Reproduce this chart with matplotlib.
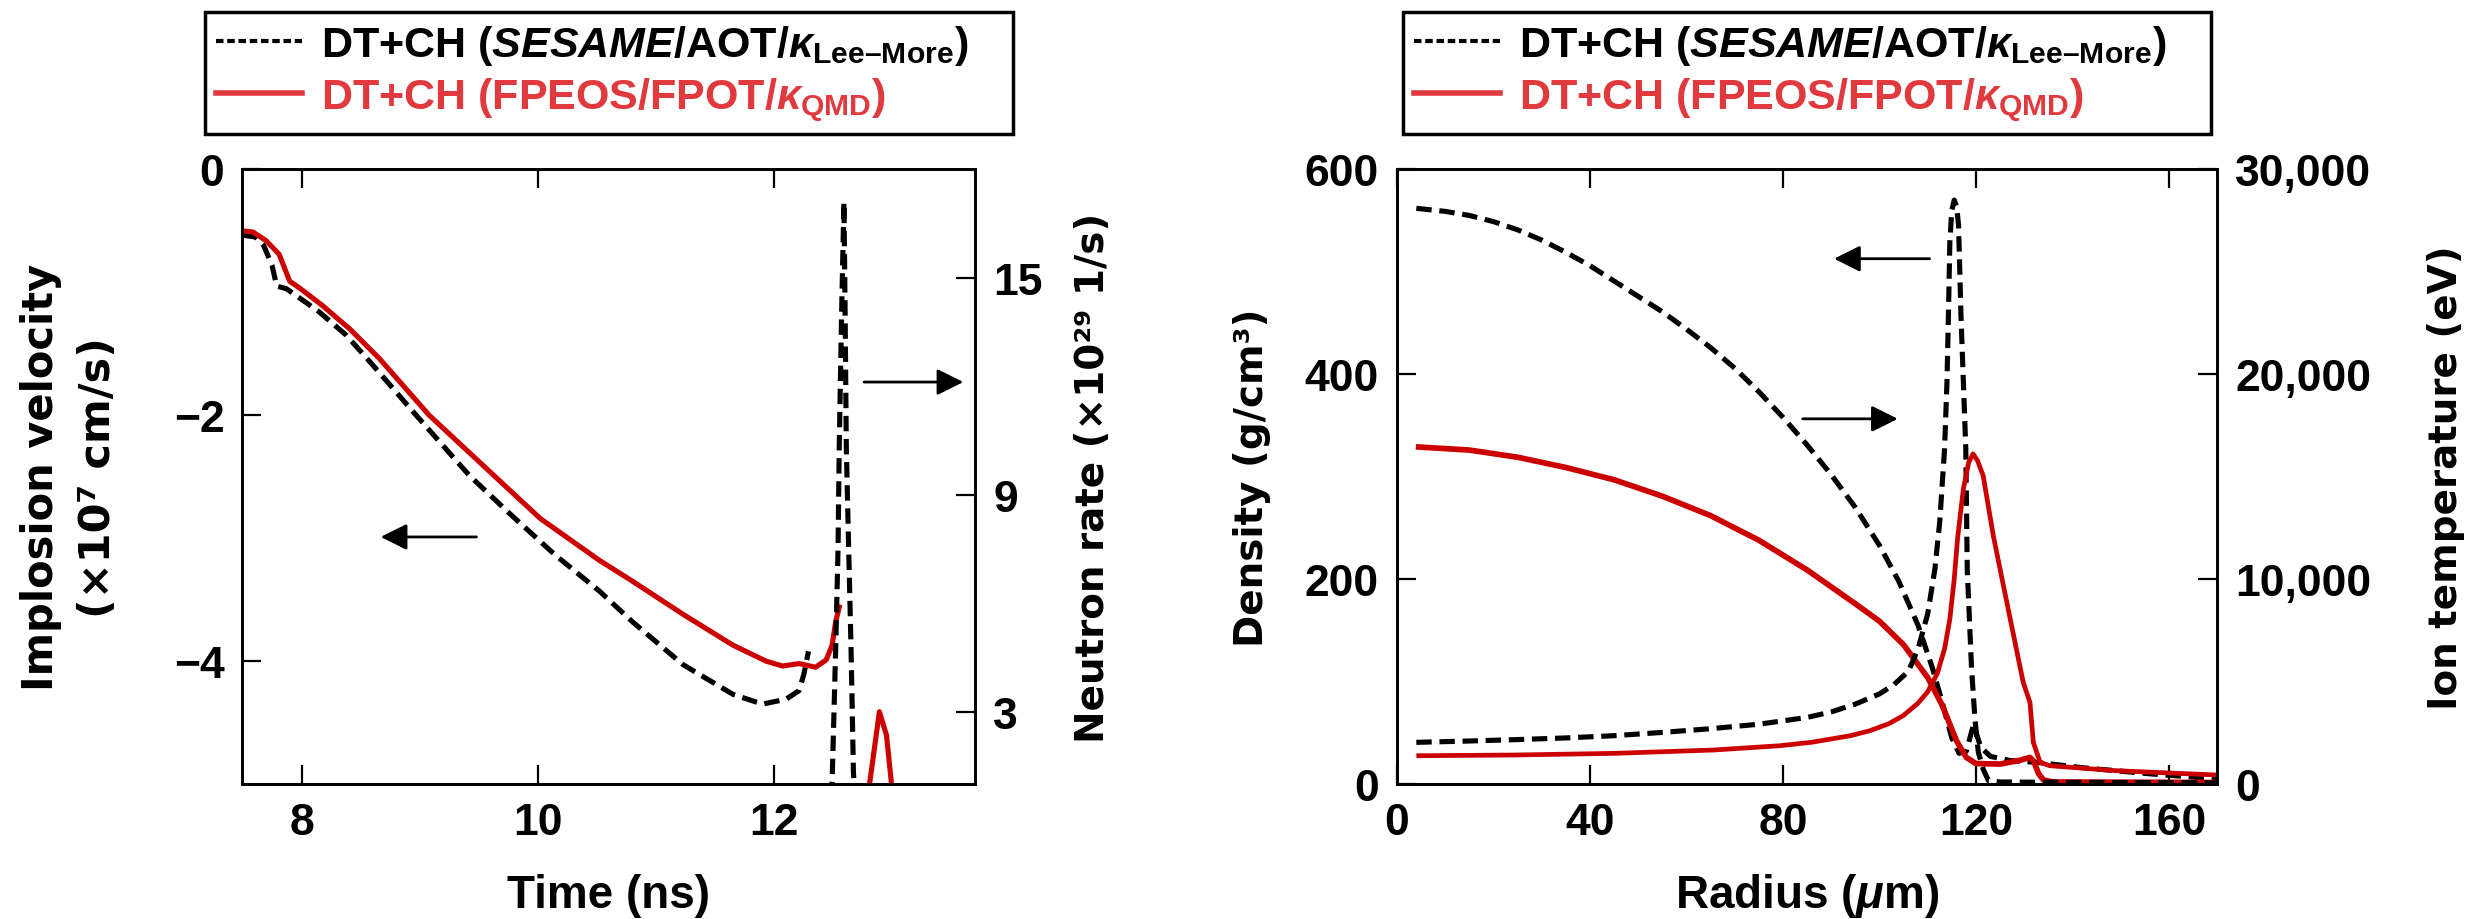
import matplotlib
matplotlib.use('Agg')
import matplotlib.pyplot as plt
from matplotlib.lines import Line2D
from matplotlib.ticker import StrMethodFormatter

plt.rcParams['font.family'] = ['Liberation Sans', 'DejaVu Sans']
plt.rcParams['font.weight'] = 'bold'
plt.rcParams['axes.labelweight'] = 'bold'
plt.rcParams['mathtext.fontset'] = 'custom'
plt.rcParams['mathtext.rm'] = 'Liberation Sans:bold'
plt.rcParams['mathtext.it'] = 'Liberation Sans:italic:bold'
plt.rcParams['mathtext.bf'] = 'Liberation Sans:bold'

RED = '#cc0000'
RED_TXT = '#e0393e'

# ---- left panel: implosion velocity (x1e7 cm/s) vs time (ns)
t_sesame = [7.5, 7.61, 7.68, 7.75, 7.79, 7.87, 7.96, 8.15, 8.38, 8.61, 8.97, 9.42,
            9.75, 10.15, 10.52, 10.80, 11.23, 11.65, 11.90, 12.10, 12.21, 12.25, 12.29]
v_sesame = [-0.535, -0.55, -0.62, -0.78, -0.95, -0.97, -1.03, -1.16, -1.35, -1.60, -2.0, -2.49,
            -2.79, -3.14, -3.43, -3.68, -4.03, -4.27, -4.35, -4.31, -4.24, -4.11, -3.92]
t_fpeos = [7.5, 7.59, 7.70, 7.81, 7.90, 7.99, 8.18, 8.41, 8.66, 9.08, 9.65, 10.02,
           10.52, 10.80, 11.23, 11.65, 11.93, 12.07, 12.21, 12.35, 12.44, 12.49, 12.52, 12.55]
v_fpeos = [-0.50, -0.51, -0.58, -0.69, -0.91, -0.97, -1.11, -1.30, -1.54, -2.0, -2.51, -2.84,
           -3.18, -3.35, -3.62, -3.87, -4.0, -4.04, -4.02, -4.05, -3.99, -3.87, -3.68, -3.56]

# neutron rate (x1e29 1/s)
tn_sesame = [12.46, 12.49, 12.52, 12.54, 12.55, 12.57, 12.59, 12.60, 12.61, 12.63, 12.65, 12.67, 12.69]
rn_sesame = [0.0, 1.07, 4.75, 7.5, 10.3, 14.0, 17.1, 14.0, 10.3, 7.5, 4.75, 1.35, 0.0]
tn_fpeos = [12.77, 12.81, 12.89, 12.95, 12.99, 13.02]
rn_fpeos = [0.0, 1.08, 3.0, 2.35, 1.08, 0.0]

# ---- right panel: density (g/cm3) and ion temperature (eV) vs radius (um)
r_rho_sesame = [4, 10, 15, 20, 25, 30, 35, 40, 45, 50, 55, 60, 65, 70, 75, 80, 85, 90, 95, 100,
                104, 108, 111, 113, 115, 116.5, 118, 119.5, 121, 123, 127, 133, 142, 156, 170]
rho_sesame = [562, 559, 555, 549, 541, 531, 519, 506, 491, 476, 461, 444, 426, 406, 383, 358,
              331, 302, 270, 233, 198, 155, 113, 80, 45, 30, 32, 58, 36, 27, 23, 21, 16, 10, 5]
r_ti_sesame = [4, 15, 25, 35, 45, 55, 65, 75, 85, 90, 95, 100, 103, 106, 108, 110, 111.5, 112.5,
               113.5, 114.0, 114.3, 114.6, 115.0, 115.5, 116.0, 116.4, 116.9, 117.4, 117.9,
               118.2, 119.1, 119.8, 120.5, 121.5, 122.6, 125, 140, 170]
ti_sesame = [2035, 2100, 2170, 2250, 2360, 2520, 2700, 2920, 3250, 3520, 3900, 4400, 4850, 5500,
             6600, 8300, 10500, 12800, 16360, 19618, 22870, 26500, 28000, 28500, 28200, 27265,
             22870, 19618, 16360, 10500, 5616, 3174, 1548, 733, 163, 100, 80, 60]
r_rho_fpeos = [4.5, 15, 25, 35, 45, 55, 65, 75, 85, 95, 100, 105, 110, 113, 116, 118, 120,
               125, 129, 131.2, 132.0, 133.0, 134.0, 136, 170]
rho_fpeos = [329, 326, 319, 309, 297, 281, 262, 238, 209, 176, 159, 136, 104, 77, 42, 26, 20,
             19.5, 23, 26, 22, 10, 4, 2, 1.5]
r_ti_fpeos = [4.5, 24.2, 44.9, 65.6, 79.4, 86, 94, 98, 102, 105, 108, 110, 112, 113.5, 114.6,
              115.5, 116.2, 117.4, 118.5, 119.4, 120.3, 121.5, 123.6, 126.4, 129.8, 131.2, 131.9,
              133.3, 135.3, 149.1, 170]
ti_fpeos = [1382, 1416, 1497, 1660, 1871, 2040, 2360, 2600, 2950, 3350, 3950, 4500, 5400, 6600,
            8058, 10000, 12000, 14406, 15700, 16115, 15800, 15056, 12126, 8872, 4966, 3990, 2036,
            1060, 894, 650, 440]

fig = plt.figure(figsize=(24.92, 9.2), dpi=100)
ax1 = fig.add_axes([0.0973, 0.1467, 0.2940, 0.6681])
ax1r = ax1.twinx()
ax2 = fig.add_axes([0.5606, 0.1467, 0.3291, 0.6681])
ax2r = ax2.twinx()

DASH = (3.0, 1.5)
LW = 3.7

ax1.plot(t_sesame, v_sesame, color='k', lw=LW, dashes=DASH)
ax1.plot(t_fpeos, v_fpeos, color=RED, lw=LW)
ax1r.plot(tn_sesame, rn_sesame, color='k', lw=LW, dashes=DASH)
ax1r.plot(tn_fpeos, rn_fpeos, color=RED, lw=LW)

ax2.plot(r_rho_sesame, rho_sesame, color='k', lw=LW, dashes=DASH)
ax2.plot(r_rho_fpeos, rho_fpeos, color=RED, lw=4.1)
ax2r.plot(r_ti_sesame, ti_sesame, color='k', lw=LW, dashes=DASH)
ax2r.plot(r_ti_fpeos, ti_fpeos, color=RED, lw=3.4)

ax1.set_xlim(7.5, 13.7)
ax1.set_ylim(-5, 0)
ax1.set_xticks([8, 10, 12])
ax1.set_yticks([0, -2, -4])
ax1r.set_ylim(1, 18)
ax1r.set_yticks([3, 9, 15])

ax2.set_xlim(0, 170)
ax2.set_ylim(0, 600)
ax2.set_xticks([0, 40, 80, 120, 160])
ax2.set_yticks([0, 200, 400, 600])
ax2r.set_ylim(0, 30000)
ax2r.set_yticks([0, 10000, 20000, 30000])
ax2r.yaxis.set_major_formatter(StrMethodFormatter('{x:,.0f}'))

for a in (ax1, ax1r, ax2, ax2r):
    for s in a.spines.values():
        s.set_linewidth(2.0)
    a.tick_params(direction='in', length=13.5, width=1.6, pad=13, labelsize=32)
for a in (ax1, ax2):
    a.tick_params(axis='x', top=True)

lab = dict(family='DejaVu Sans', fontweight='bold', fontsize=28)
ax1.set_ylabel('Implosion velocity', ha='center', va='center',
               family='DejaVu Sans', fontweight='bold', fontsize=30)
ax1.yaxis.set_label_coords(-0.275, 0.5)
ax1.text(-0.197, 0.5, '(×10⁷ cm/s)', transform=ax1.transAxes, rotation=90,
         ha='center', va='center', family='DejaVu Sans', fontweight='bold', fontsize=31)
ax1r.set_ylabel('Neutron rate (×10²⁹ 1/s)', ha='center', va='center', **lab)
ax1r.yaxis.set_label_coords(1.161, 0.5)
ax2.set_ylabel('Density (g/cm³)', ha='center', va='center', **lab)
ax2.yaxis.set_label_coords(-0.177, 0.5)
ax2r.set_ylabel('Ion temperature (eV)', ha='center', va='center', **lab)
ax2r.yaxis.set_label_coords(1.279, 0.5)

ax1.set_xlabel('Time (ns)', fontsize=33, fontweight='bold', va='center')
ax1.xaxis.set_label_coords(0.5, -0.18)
ax2.set_xlabel(r'Radius ($\mu$m)', fontsize=33, fontweight='bold', va='center')
ax2.xaxis.set_label_coords(0.5, -0.18)

arrow = dict(arrowstyle='-|>', color='k', lw=2, mutation_scale=40, shrinkA=0, shrinkB=0)
ax1.annotate('', xy=(8.67, -2.99), xytext=(9.48, -2.99), arrowprops=arrow)
ax1.annotate('', xy=(13.60, -1.73), xytext=(12.76, -1.73), arrowprops=arrow)
ax2.annotate('', xy=(90.6, 512.8), xytext=(110.4, 512.8), arrowprops=arrow)
ax2.annotate('', xy=(103.8, 356.5), xytext=(84.1, 356.5), arrowprops=arrow)

labels = [r'DT+CH ($\mathit{SESAME}$/AOT/$\kappa_{\mathrm{Lee–More}}$)',
          r'DT+CH (FPEOS/FPOT/$\kappa_{\mathrm{QMD}}$)']
handles = [Line2D([], [], color='k', lw=3.0, dashes=(1.8, 0.9)),
           Line2D([], [], color=RED_TXT, lw=4.0)]
for bx in (205 / 2492, 1403 / 2492):
    leg = fig.legend(handles, labels, loc='center', mode='expand',
                     bbox_to_anchor=(bx, 1 - 139 / 920, 808 / 2492, 130 / 920),
                     bbox_transform=fig.transFigure, fontsize=31, handlelength=2.0,
                     handletextpad=0.45, borderpad=0.25, labelspacing=0.2,
                     borderaxespad=0, fancybox=False, framealpha=1, edgecolor='k')
    leg.get_frame().set_linewidth(2.5)
    leg.get_texts()[1].set_color(RED_TXT)

fig.savefig('out.png', dpi=100)
